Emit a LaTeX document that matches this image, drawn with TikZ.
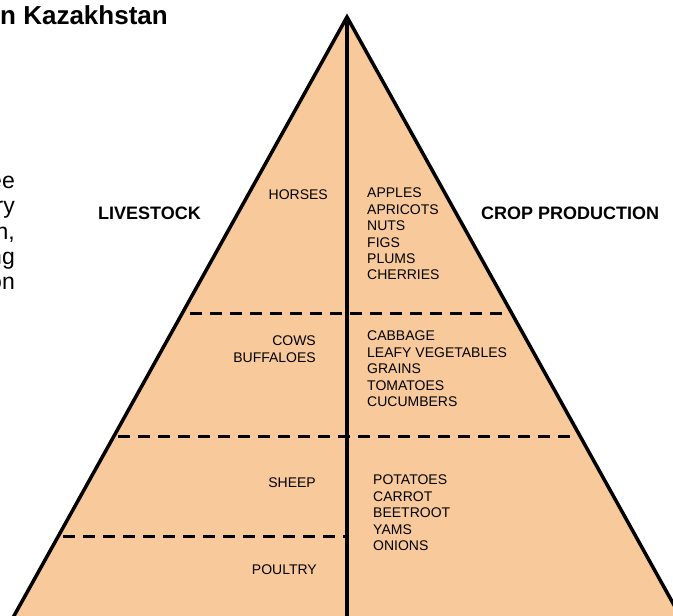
\documentclass[tikz,border=0pt]{standalone}
\usepackage{fontspec}
\setmainfont{Liberation Sans}
\usepackage{tikz}
\usetikzlibrary{positioning}
\definecolor{pyrfill}{RGB}{248,201,155}
\tikzset{
  level/.style={line width=3pt, dash pattern=on 12pt off 8pt},
  crops/.style={font=\fontsize{14}{16.4}\selectfont, align=left, inner sep=0pt},
  herds/.style={font=\fontsize{14}{16.4}\selectfont, align=right, inner sep=0pt},
  sidelabel/.style={font=\fontsize{18}{21}\selectfont\bfseries, inner sep=0pt}
}

\begin{document}
\begin{tikzpicture}[x=1pt, y=-1pt]
\useasboundingbox (0, 0) rectangle (673, 616);
\clip (0, 0) rectangle (673, 616);
%%% The corners of the pyramid
\coordinate (apex) at (347, 17);
\coordinate (bl) at (-5, 650);
\coordinate (br) at (699, 650);
\coordinate (base) at (347, 650);
\filldraw[fill=pyrfill, draw=black, line width=3.5pt, miter limit=20] (apex) -- (bl) -- (br) -- cycle;
\draw[line width=4pt] (apex) -- (base);
%%%%%% The dashed levels
\coordinate (l1a) at (190, 313); \coordinate (l1b) at (503, 313);
\coordinate (l2a) at (118, 436); \coordinate (l2b) at (577, 436);
\coordinate (l3a) at (63, 536);  \coordinate (l3b) at (347, 536);
\draw[level] (l1a) -- (l1b);
\draw[level] (l2a) -- (l2b);
\draw[level] (l3a) -- (l3b);
%%% The text cut off on the left
\node[anchor=west, inner sep=0pt, font=\fontsize{26}{30}\selectfont\bfseries] (title) at (0, 15.5) {n Kazakhstan};
\node[anchor=north east, align=right, inner sep=0pt, font=\fontsize{23}{25.3}\selectfont] (para) at (15, 176) {ee\\ry\\n,\\ng\\on};
%%% The two sides
\node[sidelabel, anchor=west] (live) at (98, 213) {LIVESTOCK};
\node[sidelabel, anchor=west] (crop) at (481, 213) {CROP PRODUCTION};
%%%%%% Livestock levels
\node[herds, anchor=north east] (horses) at (328, 190) {HORSES};
\node[herds, anchor=north east] (cows) at (316, 336) {COWS\\BUFFALOES};
\node[herds, anchor=north east] (sheep) at (316, 478) {SHEEP};
\node[herds, anchor=north east] (poultry) at (317, 565) {POULTRY};
%%%%%% Crop levels
\node[crops, anchor=north west] (fruit) at (367, 188) {APPLES\\APRICOTS\\NUTS\\FIGS\\PLUMS\\CHERRIES};
\node[crops, anchor=north west] (veg) at (367, 331) {CABBAGE\\LEAFY VEGETABLES\\GRAINS\\TOMATOES\\CUCUMBERS};
\node[crops, anchor=north west] (roots) at (373, 475) {POTATOES\\CARROT\\BEETROOT\\YAMS\\ONIONS};
\end{tikzpicture}
\end{document}
